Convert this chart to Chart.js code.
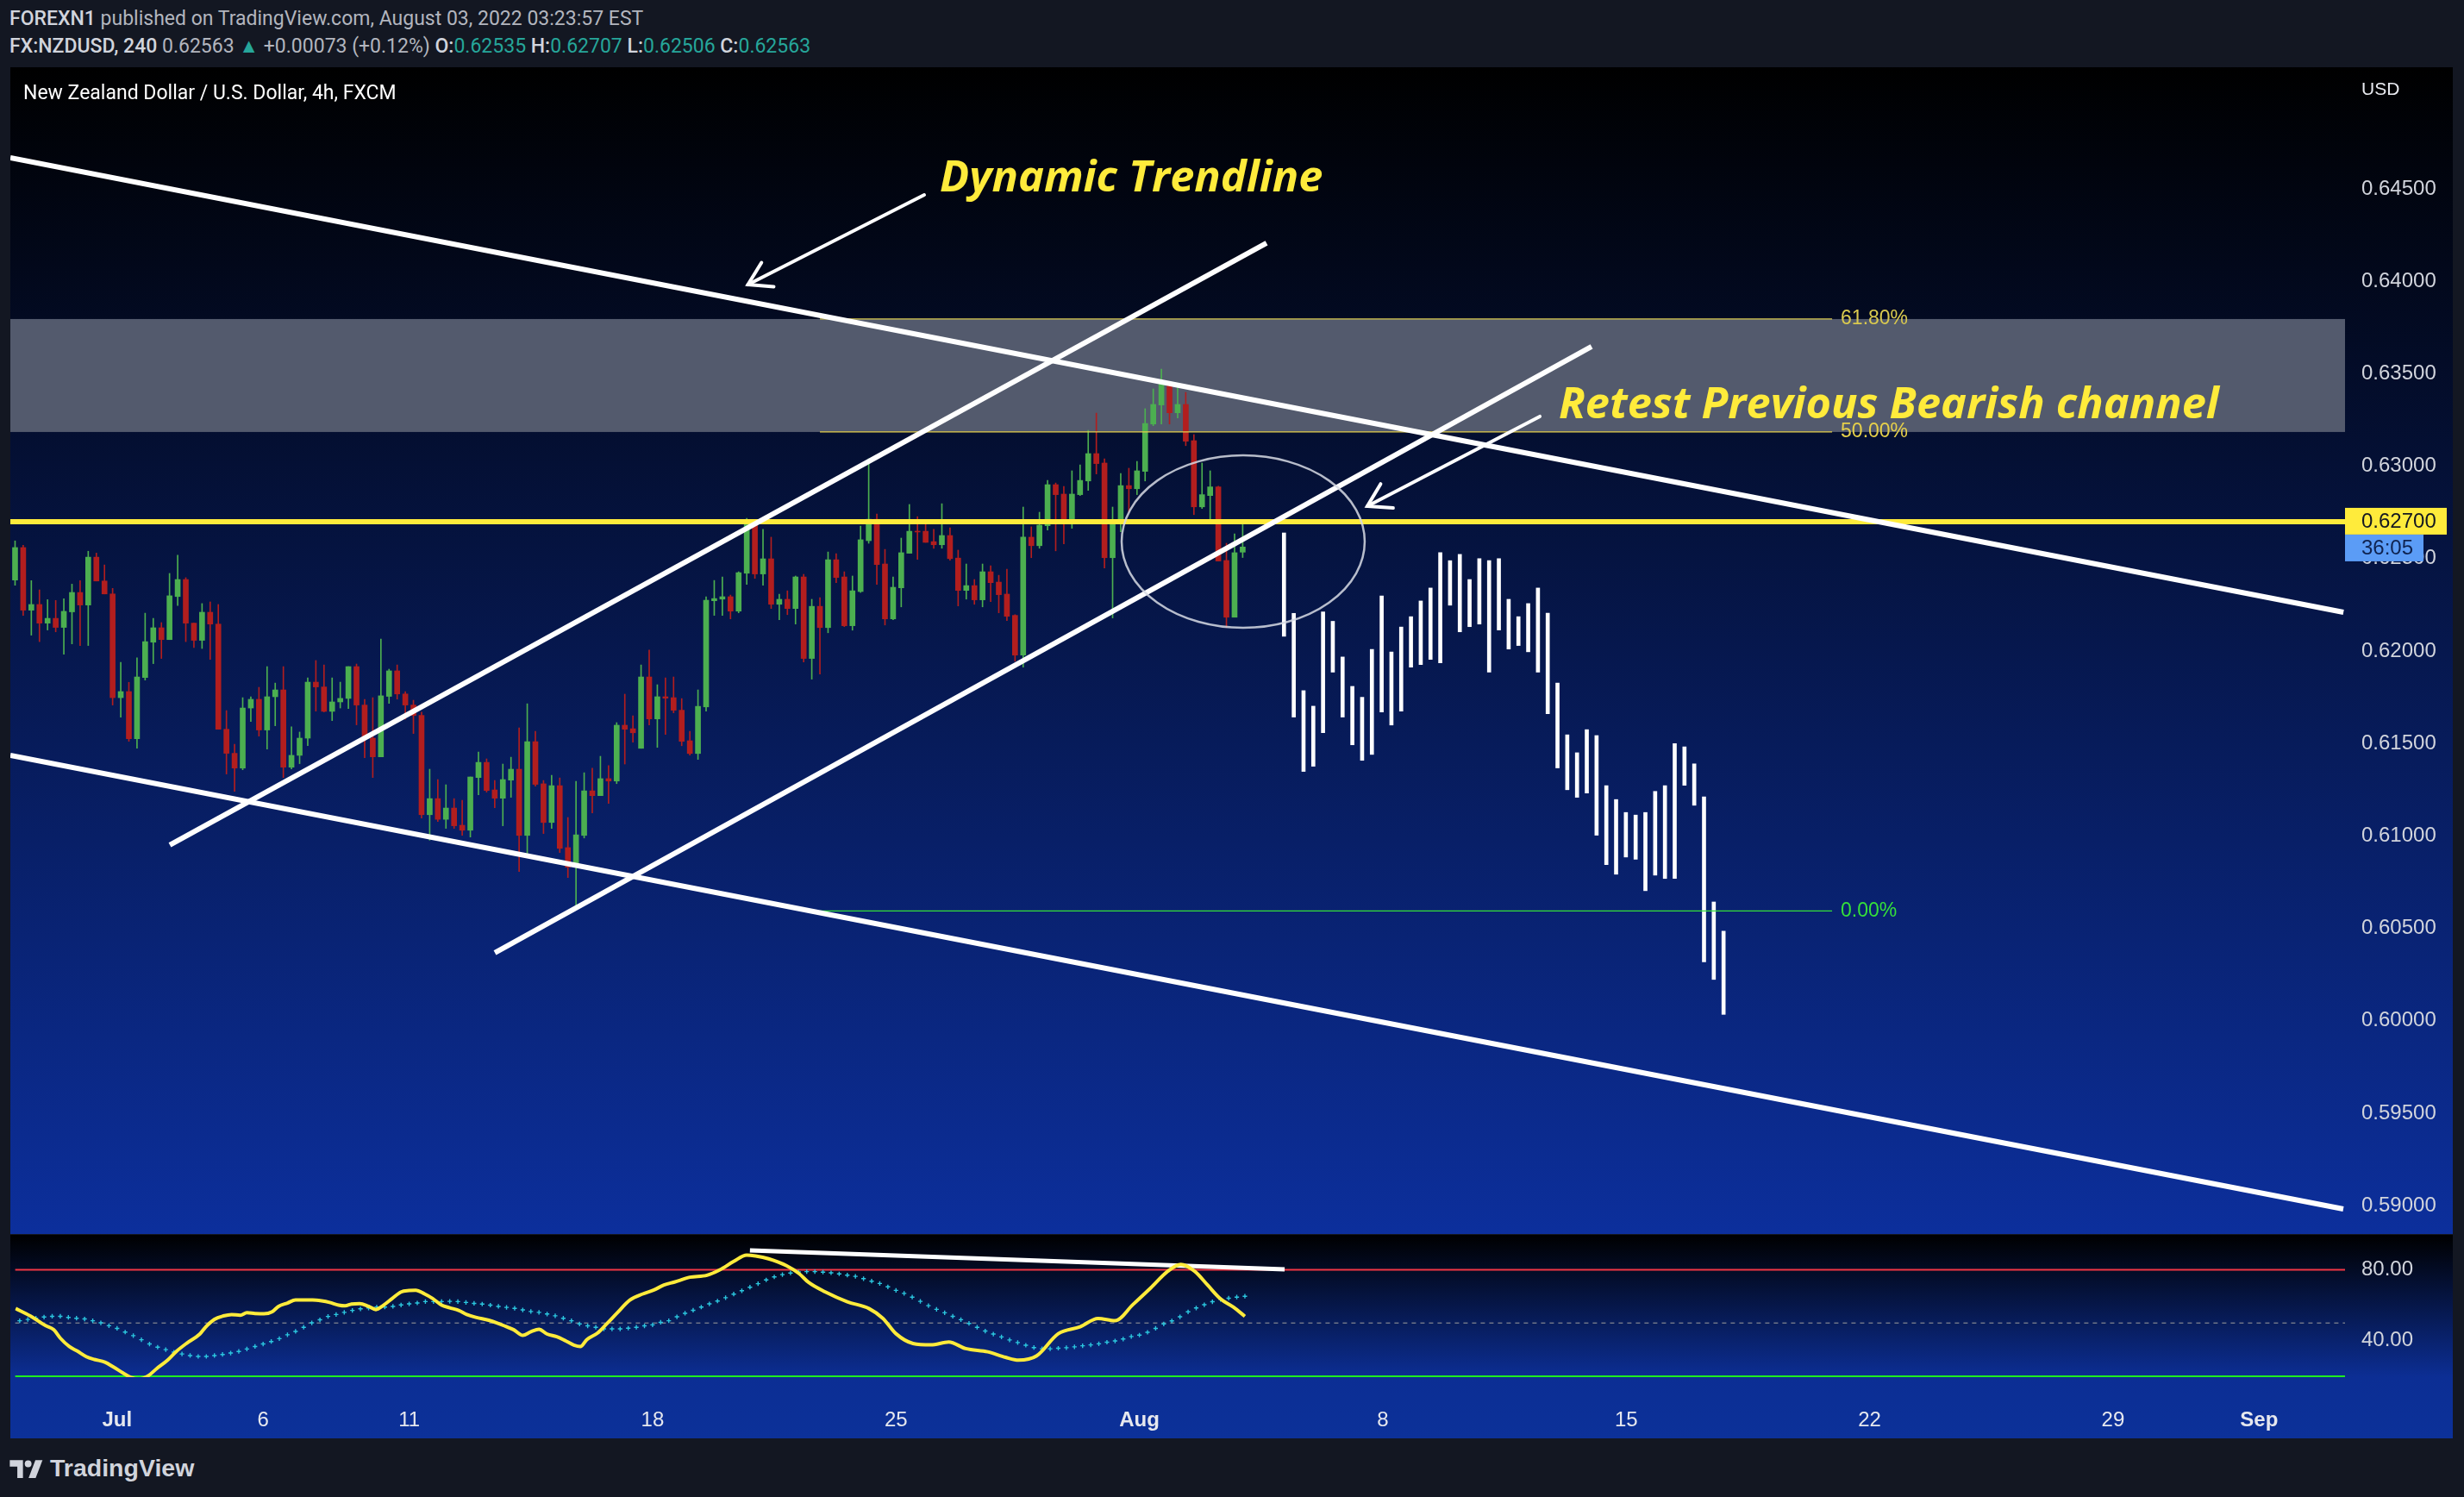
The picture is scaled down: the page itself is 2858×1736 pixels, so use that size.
<!DOCTYPE html>
<html>
<head>
<meta charset="utf-8">
<title>NZDUSD 4h</title>
<script src="https://cdn.jsdelivr.net/npm/chart.js@4.4.1/dist/chart.umd.min.js"></script>
<style>
html,body{margin:0;padding:0;background:#131722;}
body{width:2858px;height:1736px;overflow:hidden;position:relative;font-family:Roboto,"Liberation Sans",Arial,sans-serif;}
.t{position:absolute;white-space:nowrap;line-height:26px;z-index:5}
#h1{left:11px;top:9px;font-size:23px;color:#b2b5be;}
#h1 b{color:#d1d4dc;font-weight:500}
#h2{left:11px;top:41px;font-size:23px;color:#b2b5be;}
#h2 .w{color:#d1d4dc;font-weight:500}
#h2 .g{color:#26a69a}
#title{left:27px;top:95px;font-size:23px;color:#ffffff;}
#mainC{position:absolute;left:12px;top:78px;}
#rsiC{position:absolute;left:12px;top:1432px;}
#logo{position:absolute;left:11px;top:1686px;display:flex;align-items:center;gap:7px;color:#d1d4dc;font-weight:700;font-size:28.5px;font-family:"Liberation Sans",Arial,sans-serif;}
</style>
</head>
<body>
<div id="h1" class="t"><b>FOREXN1</b> published on TradingView.com, August 03, 2022 03:23:57 EST</div>
<div id="h2" class="t"><span class="w">FX:NZDUSD, 240</span> 0.62563 <span class="g">▲</span> +0.00073 (+0.12%) <span class="w">O:</span><span class="g">0.62535</span> <span class="w">H:</span><span class="g">0.62707</span> <span class="w">L:</span><span class="g">0.62506</span> <span class="w">C:</span><span class="g">0.62563</span></div>
<div id="title" class="t">New Zealand Dollar / U.S. Dollar, 4h, FXCM</div>
<canvas id="mainC" width="2833" height="1353"></canvas>
<canvas id="rsiC" width="2833" height="236"></canvas>
<div id="logo"><svg width="40" height="24" viewBox="0 0 36 22"><path d="M14 21H8V9H0V2h14v19z" fill="#d1d4dc"/><circle cx="19.5" cy="6" r="3.6" fill="#d1d4dc"/><path d="M27.5 21h-7.5l7.2-19h7.6z" fill="#d1d4dc"/></svg><span>TradingView</span></div>
<script>
// ---------------- DATA ----------------
const FIRST_BAR = -12; // bar index of the first candle (Jul 1 open = 0)
const openP = [0.62384,0.62560,0.62221,0.62252,0.62151,0.62177,0.62128,0.62212,0.62317,0.62249,
0.62508,0.62379,0.62309,0.61748,0.61781,0.61526,0.61857,0.62048,0.62126,0.62062,
0.62295,0.62387,0.62151,0.62058,0.62210,0.62146,0.61577,0.61447,0.61367,0.61692,
0.61739,0.61573,0.61753,0.61790,0.61372,0.61436,0.61529,0.61832,0.61806,0.61674,
0.61725,0.61744,0.61916,0.61708,0.61529,0.61428,0.61755,0.61893,0.61768,0.61708,
0.61652,0.61115,0.61202,0.61090,0.61151,0.61058,0.61031,0.61316,0.61398,0.61249,
0.61204,0.61302,0.61361,0.61003,0.61510,0.61282,0.61073,0.61272,0.60937,0.60831,
0.61003,0.61244,0.61218,0.61310,0.61297,0.61599,0.61580,0.61474,0.61860,0.61633,
0.61753,0.61748,0.61680,0.61515,0.61446,0.61698,0.62272,0.62281,0.62294,0.62216,
0.62421,0.62704,0.62417,0.62499,0.62253,0.62280,0.62230,0.62401,0.61960,0.62242,
0.62127,0.62494,0.62401,0.62137,0.62322,0.62597,0.62713,0.62471,0.62174,0.62342,
0.62529,0.62648,0.62648,0.62592,0.62575,0.62625,0.62503,0.62328,0.62354,0.62277,
0.62429,0.62373,0.62308,0.62193,0.61978,0.62616,0.62570,0.62678,0.62900,0.62849,
0.62687,0.62846,0.62920,0.63068,0.63017,0.62505,0.62701,0.62895,0.62878,0.62972,
0.63228,0.63331,0.63446,0.63289,0.63334,0.63138,0.62780,0.62841,0.62888,0.62490,
0.62183,0.62535];
const highP = [0.62596,0.62572,0.62381,0.62331,0.62278,0.62274,0.62283,0.62362,0.62381,0.62540,
0.62530,0.62466,0.62339,0.61939,0.61831,0.61963,0.62205,0.62177,0.62154,0.62420,
0.62518,0.62397,0.62151,0.62257,0.62266,0.62252,0.61678,0.61496,0.61748,0.61753,
0.61804,0.61916,0.61827,0.61916,0.61591,0.61562,0.61855,0.61949,0.61925,0.61855,
0.61832,0.61916,0.61930,0.61739,0.61748,0.62065,0.61902,0.61925,0.61781,0.61734,
0.61670,0.61361,0.61305,0.61277,0.61202,0.61193,0.61319,0.61454,0.61417,0.61300,
0.61389,0.61426,0.61585,0.61715,0.61566,0.61300,0.61328,0.61314,0.61100,0.61296,
0.61342,0.61366,0.61431,0.61380,0.61613,0.61767,0.61650,0.61925,0.62005,0.61818,
0.61855,0.61860,0.61743,0.61566,0.61790,0.62294,0.62382,0.62401,0.62303,0.62429,
0.62718,0.62710,0.62658,0.62616,0.62308,0.62326,0.62406,0.62415,0.62280,0.62289,
0.62536,0.62527,0.62429,0.62406,0.62676,0.63040,0.62741,0.62550,0.62401,0.62611,
0.62793,0.62727,0.62704,0.62658,0.62797,0.62667,0.62546,0.62471,0.62387,0.62471,
0.62462,0.62410,0.62443,0.62197,0.62779,0.62672,0.62751,0.62923,0.62909,0.62891,
0.62975,0.63007,0.63194,0.63287,0.63040,0.62779,0.62961,0.62989,0.63026,0.63311,
0.63418,0.63525,0.63450,0.63432,0.63399,0.63171,0.63017,0.62975,0.62892,0.62583,
0.62634,0.62707];
const lowP = [0.62356,0.62193,0.62086,0.62051,0.62114,0.62104,0.61983,0.62039,0.62030,0.62030,
0.62379,0.62309,0.61708,0.61642,0.61512,0.61475,0.61843,0.61932,0.61960,0.62062,
0.62247,0.62051,0.62019,0.62014,0.61955,0.61577,0.61335,0.61241,0.61358,0.61619,
0.61540,0.61470,0.61596,0.61316,0.61363,0.61391,0.61489,0.61675,0.61671,0.61624,
0.61692,0.61689,0.61601,0.61423,0.61316,0.61428,0.61717,0.61740,0.61632,0.61554,
0.61097,0.60977,0.61078,0.61041,0.61041,0.61003,0.60994,0.61223,0.61237,0.61153,
0.61055,0.61209,0.60808,0.60896,0.61269,0.61013,0.61041,0.60910,0.60775,0.60610,
0.60989,0.61125,0.61218,0.61176,0.61283,0.61389,0.61507,0.61474,0.61600,0.61479,
0.61549,0.61666,0.61488,0.61437,0.61414,0.61675,0.62193,0.62193,0.62174,0.62207,
0.62361,0.62393,0.62356,0.62230,0.62169,0.62197,0.62146,0.61941,0.61848,0.61876,
0.62099,0.62370,0.62132,0.62113,0.62317,0.62583,0.62361,0.62141,0.62169,0.62239,
0.62529,0.62496,0.62588,0.62556,0.62556,0.62491,0.62244,0.62281,0.62253,0.62239,
0.62267,0.62207,0.62165,0.61945,0.61913,0.62505,0.62556,0.62654,0.62542,0.62580,
0.62664,0.62841,0.62869,0.62958,0.62449,0.62179,0.62645,0.62754,0.62846,0.62920,
0.63219,0.63228,0.63228,0.63261,0.63111,0.62738,0.62771,0.62701,0.62487,0.62127,
0.62183,0.62506];
const closeP = [0.62560,0.62221,0.62252,0.62151,0.62177,0.62128,0.62215,0.62317,0.62249,0.62508,
0.62379,0.62309,0.61748,0.61781,0.61526,0.61860,0.62051,0.62126,0.62062,0.62299,
0.62387,0.62151,0.62058,0.62210,0.62146,0.61577,0.61447,0.61367,0.61692,0.61739,
0.61573,0.61753,0.61790,0.61372,0.61436,0.61529,0.61832,0.61806,0.61674,0.61725,
0.61744,0.61916,0.61708,0.61526,0.61428,0.61758,0.61893,0.61768,0.61708,0.61652,
0.61115,0.61202,0.61090,0.61151,0.61055,0.61031,0.61319,0.61398,0.61246,0.61204,
0.61305,0.61361,0.61003,0.61510,0.61279,0.61073,0.61272,0.60933,0.60831,0.61006,
0.61244,0.61218,0.61310,0.61297,0.61599,0.61577,0.61558,0.61860,0.61633,0.61753,
0.61745,0.61680,0.61512,0.61446,0.61701,0.62275,0.62284,0.62294,0.62216,0.62424,
0.62704,0.62417,0.62499,0.62253,0.62280,0.62230,0.62401,0.61960,0.62242,0.62127,
0.62494,0.62398,0.62137,0.62326,0.62602,0.62713,0.62468,0.62174,0.62345,0.62532,
0.62648,0.62644,0.62588,0.62575,0.62625,0.62500,0.62328,0.62354,0.62277,0.62429,
0.62370,0.62305,0.62188,0.61978,0.62616,0.62570,0.62681,0.62900,0.62846,0.62687,
0.62849,0.62923,0.63068,0.63014,0.62505,0.62704,0.62895,0.62878,0.62975,0.63231,
0.63334,0.63446,0.63289,0.63334,0.63135,0.62780,0.62846,0.62888,0.62487,0.62183,
0.62532,0.62563];

// projected path (white bars pattern drawing)
const PROJ_START = 144.08, PROJ_STEP = 1.2015;
const projHigh = [0.62639,0.62204,0.61786,0.61702,0.62212,0.62161,0.61968,0.61809,0.61750,0.62009,
0.62298,0.61995,0.62130,0.62186,0.62271,0.62341,0.62532,0.62489,0.62523,0.62387,
0.62500,0.62489,0.62500,0.62280,0.62186,0.62257,0.62341,0.62205,0.61827,0.61547,
0.61450,0.61575,0.61543,0.61272,0.61197,0.61127,0.61113,0.61127,0.61241,0.61272,
0.61500,0.61482,0.61390,0.61211,0.60643,0.60485];
const projLow = [0.62080,0.61643,0.61349,0.61377,0.61559,0.61886,0.61643,0.61493,0.61409,0.61441,
0.61670,0.61600,0.61675,0.61913,0.61927,0.61955,0.61936,0.62248,0.62104,0.62132,
0.62146,0.61886,0.62114,0.62011,0.62030,0.61996,0.61886,0.61661,0.61368,0.61250,
0.61209,0.61232,0.61004,0.60845,0.60793,0.60886,0.60874,0.60704,0.60788,0.60770,
0.60770,0.61274,0.61166,0.60319,0.60224,0.60035];

// RSI (line sampled along bars) and its signal (one value per candle)
const rsiBar = [-12.5,-10.7,-8.8,-7.8,-7.0,-5.9,-4.9,-3.8,-2.8,-1.5,
-0.4,0.7,1.7,2.8,3.8,4.9,6.2,7.3,8.6,10.2,
10.9,12.0,13.1,14.1,15.2,16.0,17.0,18.1,19.1,19.9,
21.0,22.0,24.1,25.2,26.2,27.3,28.1,28.9,29.9,31.0,
31.9,32.8,33.9,35.0,36.0,36.8,37.9,38.9,40.0,41.0,
42.1,43.1,44.2,45.8,46.8,47.9,48.9,50.0,51.0,52.0,
53.0,54.2,55.3,56.3,57.1,57.9,59.2,60.3,61.6,63.2,
64.8,66.1,67.4,68.7,70.6,72.7,74.3,76.0,77.6,78.7,
80.3,82.5,84.1,85.2,87.3,90.0,92.7,94.4,96.0,98.1,
100.3,102.5,104.6,107.3,109.5,111.1,113.3,116.0,118.7,120.9,
123.0,125.2,127.4,129.5,131.1,132.8,134.4,136.0,137.6,139.0];
const rsiVal = [58.2,54.0,48.5,46.2,41.5,36.8,34.2,31.1,29.5,28.0,
25.1,22.0,19.4,18.6,20.2,24.4,29.0,34.0,38.7,43.8,
47.7,52.1,54.0,54.8,54.4,55.8,55.4,55.2,56.3,59.4,
61.3,63.0,63.0,62.5,61.6,60.1,59.7,60.7,61.0,59.4,
57.6,59.9,63.8,67.5,68.3,68.5,66.4,63.8,60.1,58.6,
57.1,54.8,53.2,51.6,50.1,48.1,46.2,43.1,45.1,46.5,
43.8,42.3,39.9,37.6,36.8,40.7,44.3,49.3,55.5,62.9,
66.4,68.5,71.4,73.1,75.8,76.9,80.0,84.7,88.3,87.8,
86.2,82.3,77.7,73.0,67.5,62.0,58.1,52.6,44.0,38.5,
37.7,39.3,35.6,33.8,30.7,29.1,31.4,44.0,47.9,52.6,
51.3,60.4,69.8,79.2,83.1,79.2,71.4,63.6,58.9,53.8];
const rsiSignal = [51.3,52.0,52.7,53.4,53.8,53.8,53.2,52.7,52.3,51.3,
50.1,48.5,47.0,44.9,42.9,40.6,38.2,36.4,35.0,33.6,
32.6,31.7,31.2,31.2,31.7,32.3,33.1,34.0,35.4,36.8,
38.2,39.6,41.2,43.4,45.3,47.6,50.1,51.8,53.7,54.8,
56.0,57.1,58.0,58.5,59.0,59.0,59.4,60.2,60.8,61.3,
62.1,62.1,62.1,62.2,62.1,61.6,61.1,60.7,60.1,59.4,
58.8,58.3,57.4,56.5,56.0,55.1,54.1,52.7,51.3,49.5,
48.4,47.6,46.7,46.7,46.7,47.1,47.6,48.4,49.0,50.4,
51.3,53.5,55.5,57.2,59.0,60.8,62.4,64.3,66.3,68.2,
70.2,72.2,74.3,76.0,77.3,78.2,78.8,79.0,79.0,78.7,
78.3,77.7,77.0,76.3,75.0,73.6,72.3,70.4,68.4,66.7,
64.6,62.2,59.8,57.7,55.8,53.8,51.9,49.8,47.6,45.5,
43.8,42.2,40.5,39.0,37.5,36.2,35.5,35.5,35.8,36.1,
36.6,37.2,37.7,38.3,39.2,39.9,41.0,42.4,43.2,44.8,
47.0,49.5,51.2,53.5,56.3,58.5,60.3,62.0,63.3,64.0,
64.6,65.1];
const rsiBands = [80, 50, 20];
const rsiDivergence = {bars:[78.0,143.9], values:[90.9,80.3]};

// ticks
const priceTicks = [0.590,0.595,0.600,0.605,0.610,0.615,0.620,0.625,0.630,0.635,0.640,0.645];
const rsiTicks = [40, 80];
const timeTickBars = [0,18,36,66,96,126,156,186,216,246,264];
const timeTickLabels = ['Jul','6','11','18','25','Aug','8','15','22','29','Sep'];
const monthLabels = ['Jul','Aug','Sep'];

// drawings (price / bar coordinates)
const hLevel = 0.627;
const zoneLow = 0.63185, zoneHigh = 0.63796;
const fibLevels = [0.63796, 0.63185, 0.60594];
const fibLabels = ['61.80%', '50.00%', '0.00%'];
const fibStartBar = 87.0, fibEndBar = 211.5;
const trendBars = [[-12.58, 274.4], [-12.58, 274.38], [7.04, 141.93], [47.02, 181.91]];
const trendPrices = [[0.64668, 0.62210], [0.614358, 0.589825], [0.609507, 0.642062], [0.603677, 0.636465]];

// ---------------- LAYOUT / STYLE ----------------
const X_MIN = -12.58, X_MAX = 274.59;
const P_MIN = 0.588472, P_MAX = 0.651576;
const R_MIN = 19.53, R_MAX = 97.06;
const GREEN = '#4caf50', RED = '#b21e1e';
const AXIS_W = 125;
const axisFont = '"Liberation Sans", Arial, sans-serif';
Chart.defaults.font.family = axisFont;

const barIdx = openP.map((_, i) => FIRST_BAR + i);
const candleColors = barIdx.map((_, i) => closeP[i] >= openP[i] ? GREEN : RED);
const wickData = barIdx.map((k, i) => ({x: k, y: [lowP[i], highP[i]]}));
const bodyData = barIdx.map((k, i) => ({x: k, y: [openP[i], closeP[i]]}));
const projData = projHigh.map((h, j) => ({x: PROJ_START + j * PROJ_STEP, y: [projLow[j], h]}));

const lineDs = (pts, color, width, order, extra) => Object.assign({
  type: 'line', data: pts, borderColor: color, borderWidth: width, pointRadius: 0,
  tension: 0, fill: false, order: order, clip: 0
}, extra || {});

const datasets = [];
trendBars.forEach((b, i) => {
  datasets.push(lineDs([{x: b[0], y: trendPrices[i][0]}, {x: b[1], y: trendPrices[i][1]}], '#ffffff', 6, 0));
});
datasets.push(lineDs([{x: X_MIN, y: hLevel}, {x: X_MAX, y: hLevel}], '#ffeb3b', 6, 1));
const fibColors = ['#d9c94f', '#e6d04a', '#35e03a'];
fibLevels.forEach((lv, i) => {
  datasets.push(lineDs([{x: fibStartBar, y: lv}, {x: fibEndBar, y: lv}], fibColors[i], 1.3, 2));
});
datasets.push({type: 'bar', data: projData, backgroundColor: '#ffffff', barThickness: 4, grouped: false, order: 3});
datasets.push({type: 'bar', data: bodyData, backgroundColor: candleColors, barThickness: 6, grouped: false, minBarLength: 1, order: 4});
datasets.push({type: 'bar', data: wickData, backgroundColor: candleColors, barThickness: 1, grouped: false, order: 5});

const annotations = {
  texts: [
    {text: 'Dynamic Trendline', bar: 101.74, price: 0.64555},
    {text: 'Retest Previous Bearish channel', bar: 177.88, price: 0.63325}
  ],
  arrows: [
    {from: [99.83, 0.64467], to: [78.15, 0.63982]},
    {from: [175.55, 0.63269], to: [154.33, 0.62784]}
  ],
  ellipse: {bar: 139.06, price: 0.62592, rxBars: 14.95, ryPrice: 0.004664}
};

function drawArrow(ctx, x1, y1, x2, y2) {
  ctx.beginPath(); ctx.moveTo(x1, y1); ctx.lineTo(x2, y2); ctx.stroke();
  const a = Math.atan2(y1 - y2, x1 - x2), L = 30, s = 0.55;
  ctx.beginPath();
  ctx.moveTo(x2 + L * Math.cos(a + s), y2 + L * Math.sin(a + s));
  ctx.lineTo(x2, y2);
  ctx.lineTo(x2 + L * Math.cos(a - s), y2 + L * Math.sin(a - s));
  ctx.stroke();
}

const mainOverlay = {
  id: 'mainOverlay',
  beforeDraw(chart) {
    const {ctx, width, height} = chart;
    const g = ctx.createLinearGradient(0, 0, 0, height);
    g.addColorStop(0, '#000000');
    g.addColorStop(1, '#0c2f9c');
    ctx.save(); ctx.fillStyle = g; ctx.fillRect(0, 0, width, height); ctx.restore();
  },
  beforeDatasetsDraw(chart) {
    const {ctx, chartArea: a, scales: {y}} = chart;
    const y1 = y.getPixelForValue(zoneHigh), y2 = y.getPixelForValue(zoneLow);
    ctx.save(); ctx.fillStyle = '#535a6d'; ctx.fillRect(a.left, y1, a.right - a.left, y2 - y1); ctx.restore();
  },
  afterDatasetsDraw(chart) {
    const {ctx, chartArea: a, scales: {x, y}} = chart;
    ctx.save();
    ctx.beginPath(); ctx.rect(a.left, a.top, a.right - a.left, a.bottom - a.top); ctx.clip();
    // ellipse
    const e = annotations.ellipse;
    const cx = x.getPixelForValue(e.bar), cy = y.getPixelForValue(e.price);
    const rx = x.getPixelForValue(e.bar + e.rxBars) - cx;
    const ry = y.getPixelForValue(e.price - e.ryPrice) - cy;
    ctx.strokeStyle = 'rgba(215,218,228,0.85)'; ctx.lineWidth = 2.5;
    ctx.beginPath(); ctx.ellipse(cx, cy, rx, ry, 0, 0, Math.PI * 2); ctx.stroke();
    // arrows
    ctx.strokeStyle = '#ffffff'; ctx.lineWidth = 4; ctx.lineCap = 'round';
    annotations.arrows.forEach(ar => {
      drawArrow(ctx, x.getPixelForValue(ar.from[0]), y.getPixelForValue(ar.from[1]),
        x.getPixelForValue(ar.to[0]), y.getPixelForValue(ar.to[1]));
    });
    // texts
    ctx.fillStyle = '#ffeb3b'; ctx.textBaseline = 'middle'; ctx.textAlign = 'left';
    ctx.font = 'italic 700 50.5px "Open Sans", "Liberation Sans", sans-serif';
    annotations.texts.forEach(t => ctx.fillText(t.text, x.getPixelForValue(t.bar), y.getPixelForValue(t.price)));
    // fib labels
    ctx.font = '23px ' + axisFont;
    fibLevels.forEach((lv, i) => {
      ctx.fillStyle = fibColors[i];
      ctx.fillText(fibLabels[i], x.getPixelForValue(fibEndBar) + 10, y.getPixelForValue(lv));
    });
    ctx.restore();
  },
  afterDraw(chart) {
    const {ctx, chartArea: a, scales: {y}} = chart;
    ctx.save();
    ctx.font = '21px ' + axisFont; ctx.fillStyle = '#e8eaf0'; ctx.textBaseline = 'middle';
    ctx.fillText('USD', a.right + 19, 26);
    const yl = y.getPixelForValue(hLevel);
    ctx.fillStyle = '#ffeb3b'; ctx.fillRect(a.right, yl - 16, 118, 31);
    ctx.fillStyle = '#131722'; ctx.font = '24px ' + axisFont;
    ctx.fillText('0.62700', a.right + 19, yl);
    ctx.fillStyle = '#5b9cf6'; ctx.fillRect(a.right, yl + 15, 91, 31);
    ctx.fillStyle = '#0f2350';
    ctx.fillText('36:05', a.right + 19, yl + 31);
    ctx.restore();
  }
};

new Chart(document.getElementById('mainC'), {
  type: 'bar',
  data: {datasets},
  options: {
    responsive: false, devicePixelRatio: 1, animation: false, events: [],
    layout: {padding: 0},
    plugins: {legend: {display: false}, tooltip: {enabled: false}},
    scales: {
      x: {type: 'linear', min: X_MIN, max: X_MAX, display: false, offset: false,
          afterFit: s => { s.paddingLeft = 0; s.paddingRight = 0; }},
      y: {type: 'linear', position: 'right', min: P_MIN, max: P_MAX, beginAtZero: false,
          grid: {display: false, drawTicks: false}, border: {display: false},
          ticks: {color: '#d1d4dc', font: {size: 24}, padding: 19, callback: v => Number(v).toFixed(5)},
          afterBuildTicks: s => { s.ticks = priceTicks.map(v => ({value: v})); },
          afterFit: s => { s.width = AXIS_W; s.paddingTop = 0; s.paddingBottom = 0; }}
    }
  },
  plugins: [mainOverlay]
});

// ---------------- RSI PANE ----------------
const rsiOverlay = {
  id: 'rsiOverlay',
  beforeDraw(chart) {
    const {ctx, width, height, chartArea: a} = chart;
    const g = ctx.createLinearGradient(0, 0, 0, height);
    g.addColorStop(0, '#000000');
    g.addColorStop(a.bottom / height, '#0c2e94');
    g.addColorStop(1, '#0c3199');
    ctx.save(); ctx.fillStyle = g; ctx.fillRect(0, 0, width, height); ctx.restore();
  }
};
const bandColors = ['#f23645', '#6f7587', '#1fee1f'];
const rsiDatasets = [
  lineDs(rsiBar.map((b, i) => ({x: b, y: rsiVal[i]})), '#ffeb3b', 4, 0, {cubicInterpolationMode: 'monotone'}),
  lineDs(rsiDivergence.bars.map((b, i) => ({x: b, y: rsiDivergence.values[i]})), '#ffffff', 5, 1, {borderCapStyle: 'butt'}),
  {type: 'line', data: rsiSignal.map((v, i) => ({x: FIRST_BAR + i, y: v})), showLine: false,
   pointStyle: 'cross', pointRadius: 2.6, pointBorderWidth: 1.4, pointBorderColor: '#2bc6de',
   pointBackgroundColor: '#2bc6de', order: 2},
];
rsiBands.forEach((b, i) => {
  rsiDatasets.push(lineDs([{x: X_MIN, y: b}, {x: X_MAX, y: b}], bandColors[i], i === 1 ? 1.5 : 2, 3,
    i === 1 ? {borderDash: [5, 5]} : {}));
});

new Chart(document.getElementById('rsiC'), {
  type: 'line',
  data: {datasets: rsiDatasets},
  options: {
    responsive: false, devicePixelRatio: 1, animation: false, events: [],
    layout: {padding: 0},
    plugins: {legend: {display: false}, tooltip: {enabled: false}},
    scales: {
      x: {type: 'linear', min: X_MIN, max: X_MAX, position: 'bottom', offset: false,
          grid: {display: false, drawTicks: false}, border: {display: false},
          ticks: {autoSkip: false, maxRotation: 0, padding: 36, color: '#e6e8ee',
                  font: c => ({size: 24, weight: (c.tick && monthLabels.includes(timeTickLabels[timeTickBars.indexOf(c.tick.value)])) ? 'bold' : 'normal'}),
                  callback: v => { const i = timeTickBars.indexOf(v); return i >= 0 ? timeTickLabels[i] : ''; }},
          afterBuildTicks: s => { s.ticks = timeTickBars.map(v => ({value: v})); },
          afterFit: s => { s.height = 71; s.paddingLeft = 0; s.paddingRight = 0; }},
      y: {type: 'linear', position: 'right', min: R_MIN, max: R_MAX,
          grid: {display: false, drawTicks: false}, border: {display: false},
          ticks: {color: '#d1d4dc', font: {size: 24}, padding: 19, callback: v => Number(v).toFixed(2)},
          afterBuildTicks: s => { s.ticks = rsiTicks.map(v => ({value: v})); },
          afterFit: s => { s.width = AXIS_W; s.paddingTop = 0; s.paddingBottom = 0; }}
    }
  },
  plugins: [rsiOverlay]
});
</script>
</body>
</html>
